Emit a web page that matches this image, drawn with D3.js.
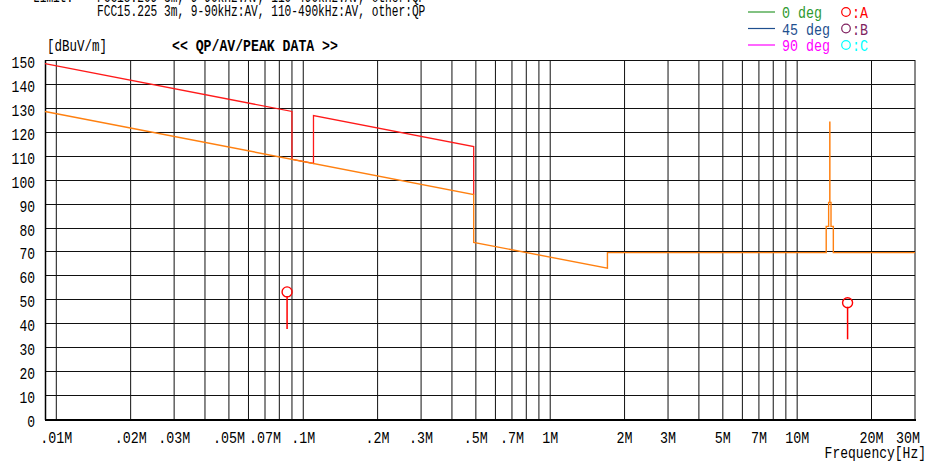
<!DOCTYPE html>
<html>
<head>
<meta charset="utf-8">
<script src="https://cdn.jsdelivr.net/npm/d3@7"></script>
<style>
  body { margin: 0; background: #fff; }
  svg { display: block; }
  text { font-family: "Liberation Mono", "DejaVu Sans Mono", monospace; }
</style>
</head>
<body>
<svg id="chart" width="930" height="464"></svg>
<script>
// limit line (peak), red
var peakFreq = [9e3, 90e3, 90e3, 110e3, 110e3, 490e3, 490e3];
var peakLimit = [148.5, 128.5, 108.5, 106.8, 126.8, 113.8, 93.8];

// limit line (AV / QP), orange
var avFreq = [9e3, 490e3, 490e3, 1.705e6, 1.705e6, 13.11e6, 13.11e6, 13.41e6, 13.41e6,
    13.553e6, 13.553e6, 13.567e6, 13.567e6, 13.71e6, 13.71e6, 14.01e6, 14.01e6, 30e6];
var avLimit = [128.5, 93.8, 73.8, 63.0, 69.5, 69.5, 80.5, 80.5, 90.5,
    90.5, 124.0, 124.0, 90.5, 90.5, 80.5, 80.5, 69.5, 69.5];

// measured points, antenna A
var markFreq = [86e3, 16.0e6];
var markHigh = [53.1, 48.6];
var markLow = [37.6, 33.3];

var yTicks = [0, 10, 20, 30, 40, 50, 60, 70, 80, 90, 100, 110, 120, 130, 140, 150];
var xTickVals = [1e4, 2e4, 3e4, 5e4, 7e4, 1e5, 2e5, 3e5, 5e5, 7e5, 1e6, 2e6, 3e6, 5e6, 7e6, 1e7, 2e7, 3e7];
var xTickLabels = [".01M", ".02M", ".03M", ".05M", ".07M", ".1M", ".2M", ".3M", ".5M", ".7M",
    "1M", "2M", "3M", "5M", "7M", "10M", "20M", "30M"];

var legendLines = ["0 deg", "45 deg", "90 deg"];
var legendLineColors = ["#2f9a2f", "#1f4f8f", "#ff00ff"];
var legendMarks = [":A", ":B", ":C"];
var legendMarkColors = ["#ff0000", "#7f1f5f", "#00ffff"];

var svg = d3.select("#chart");
var plotL = 45, plotR = 915, plotT = 60, plotB = 419;

var x = d3.scaleLog().domain([9e3, 30e6]).range([plotL, plotR]);
var y = d3.scaleLinear().domain([0, 150]).range([plotB, plotT]);

// monospace text squeezed to a fixed cell width, like the instrument font
function mono(g, px, py, str, size, cw, anchor, color, bold) {
    return g.append("text")
        .attr("x", px).attr("y", py)
        .attr("font-size", size)
        .attr("font-weight", bold ? "bold" : "normal")
        .attr("text-anchor", anchor || "start")
        .attr("fill", color || "#000")
        .attr("textLength", str.length * cw)
        .attr("lengthAdjust", "spacingAndGlyphs")
        .text(str);
}

// grid
var gridFreqs = [];
[1e4, 1e5, 1e6].forEach(function (d) {
    for (var m = 1; m <= 9; m++) gridFreqs.push(d * m);
});
gridFreqs.push(1e7, 2e7, 3e7);

var grid = svg.append("g");
grid.selectAll(".vg").data(gridFreqs).enter().append("line")
    .attr("x1", function (d) { return x(d); })
    .attr("x2", function (d) { return x(d); })
    .attr("y1", plotT).attr("y2", plotB)
    .attr("stroke", "#111").attr("stroke-width", 1);

grid.selectAll(".hg").data(yTicks).enter().append("line")
    .attr("x1", plotL).attr("x2", plotR)
    .attr("y1", function (d) { return Math.round(y(d)) + 0.5; })
    .attr("y2", function (d) { return Math.round(y(d)) + 0.5; })
    .attr("stroke", "#111").attr("stroke-width", 1);

// frame
grid.append("line").attr("x1", plotL + 0.5).attr("x2", plotL + 0.5)
    .attr("y1", plotT).attr("y2", plotB + 1).attr("stroke", "#000").attr("stroke-width", 1.5);
grid.append("line").attr("x1", plotL).attr("x2", plotR + 1)
    .attr("y1", plotB + 1).attr("y2", plotB + 1).attr("stroke", "#000").attr("stroke-width", 2);

// axis labels
var yl = svg.append("g");
yTicks.forEach(function (v) {
    yl.append("text")
        .attr("x", 35).attr("y", y(v) + 8)
        .attr("text-anchor", "end")
        .attr("font-family", "'Liberation Sans', Arial, sans-serif")
        .attr("font-size", 17)
        .attr("textLength", String(v).length * 7.8)
        .attr("lengthAdjust", "spacingAndGlyphs")
        .text(v);
});
xTickVals.forEach(function (v, i) {
    var w = xTickLabels[i].length * 8;
    var cx = Math.min(x(v), 920 - w / 2);
    mono(yl, cx, 443, xTickLabels[i], 16, 8, "middle");
});
mono(svg, 926, 458, "Frequency[Hz]", 16, 7.8, "end");
mono(svg, 47, 51, "[dBuV/m]", 16, 7.5, "start");
mono(svg, 172, 51, "<< QP/AV/PEAK DATA >>", 16, 7.9, "start", "#000", true);

// header (first line cut off at top)
mono(svg, 33, 2, "Limit:", 16, 6.7, "start");
mono(svg, 97, 2, "FCC15.209 3m, 9-90kHz:AV, 110-490kHz:AV, other:QP", 16, 6.7, "start");
mono(svg, 97, 16, "FCC15.225 3m, 9-90kHz:AV, 110-490kHz:AV, other:QP", 16, 6.7, "start");

// legend
var lg = svg.append("g");
legendLines.forEach(function (t, i) {
    var by = 18 + i * 16.5;
    lg.append("line").attr("x1", 748).attr("x2", 775)
        .attr("y1", by - 6).attr("y2", by - 6)
        .attr("stroke", legendLineColors[i]).attr("stroke-width", 1.2);
    mono(lg, 782, by, t, 16, 8, "start", legendLineColors[i]);
    lg.append("circle").attr("cx", 846).attr("cy", by - 6).attr("r", 4.3)
        .attr("fill", "none").attr("stroke", legendMarkColors[i]).attr("stroke-width", 1.2);
    mono(lg, 852, by, legendMarks[i], 16, 8, "start", legendMarkColors[i]);
});

// limit lines
var line = d3.line()
    .x(function (d) { return x(d[0]); })
    .y(function (d) { return y(d[1]); });

svg.append("path")
    .datum(d3.zip(peakFreq, peakLimit))
    .attr("d", line)
    .attr("fill", "none").attr("stroke", "#ff1a1a").attr("stroke-width", 1.3);

svg.append("path")
    .datum(d3.zip(avFreq, avLimit))
    .attr("d", line)
    .attr("fill", "none").attr("stroke", "#ff8010").attr("stroke-width", 1.4);

// measured points
var mk = svg.append("g");
markFreq.forEach(function (f, i) {
    mk.append("line")
        .attr("x1", x(f)).attr("x2", x(f))
        .attr("y1", y(markHigh[i]) + 4).attr("y2", y(markLow[i]))
        .attr("stroke", "#ff0000").attr("stroke-width", 1.5);
    mk.append("circle")
        .attr("cx", x(f)).attr("cy", y(markHigh[i])).attr("r", 5)
        .attr("fill", "none").attr("stroke", "#ff0000").attr("stroke-width", 1.4);
});
</script>
</body>
</html>
